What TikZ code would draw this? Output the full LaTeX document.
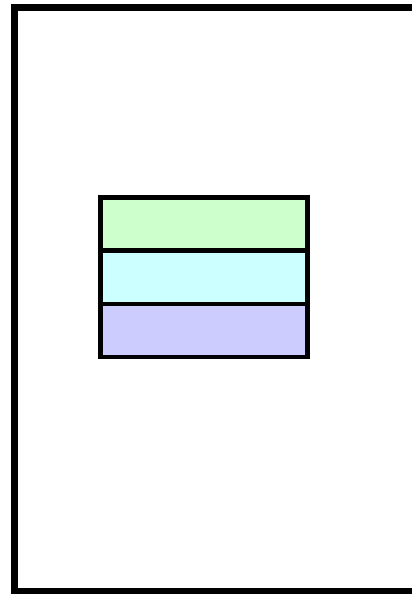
\documentclass[tikz,border=0pt]{standalone}
\usepackage{xcolor}
\usepackage{tikz}
\usetikzlibrary{positioning}
\definecolor{bandgreen}{HTML}{CCFFCC}
\definecolor{bandcyan}{HTML}{CCFFFF}
\definecolor{bandblue}{HTML}{CCCCFF}
\tikzset{
    band/.style={
        draw,
        line width=4.5pt,
        minimum width=207pt,
        minimum height=53.3pt,
        outer sep=0pt,
        inner sep=0pt
    },
    frame/.style={line width=7.5pt}
}

\begin{document}
\begin{tikzpicture}[x=1pt, y=1pt, node distance=0pt]
        \useasboundingbox (0,0) rectangle (412,594);
        \draw[frame] (14.3,2) rectangle (417,586.7);

        \node[band, fill=bandgreen] (top) at (204.2,370) {};
        \node[band, fill=bandcyan, below=of top] (mid) {};
        \node[band, fill=bandblue, below=of mid] (bot) {};
    \end{tikzpicture}
\end{document}
